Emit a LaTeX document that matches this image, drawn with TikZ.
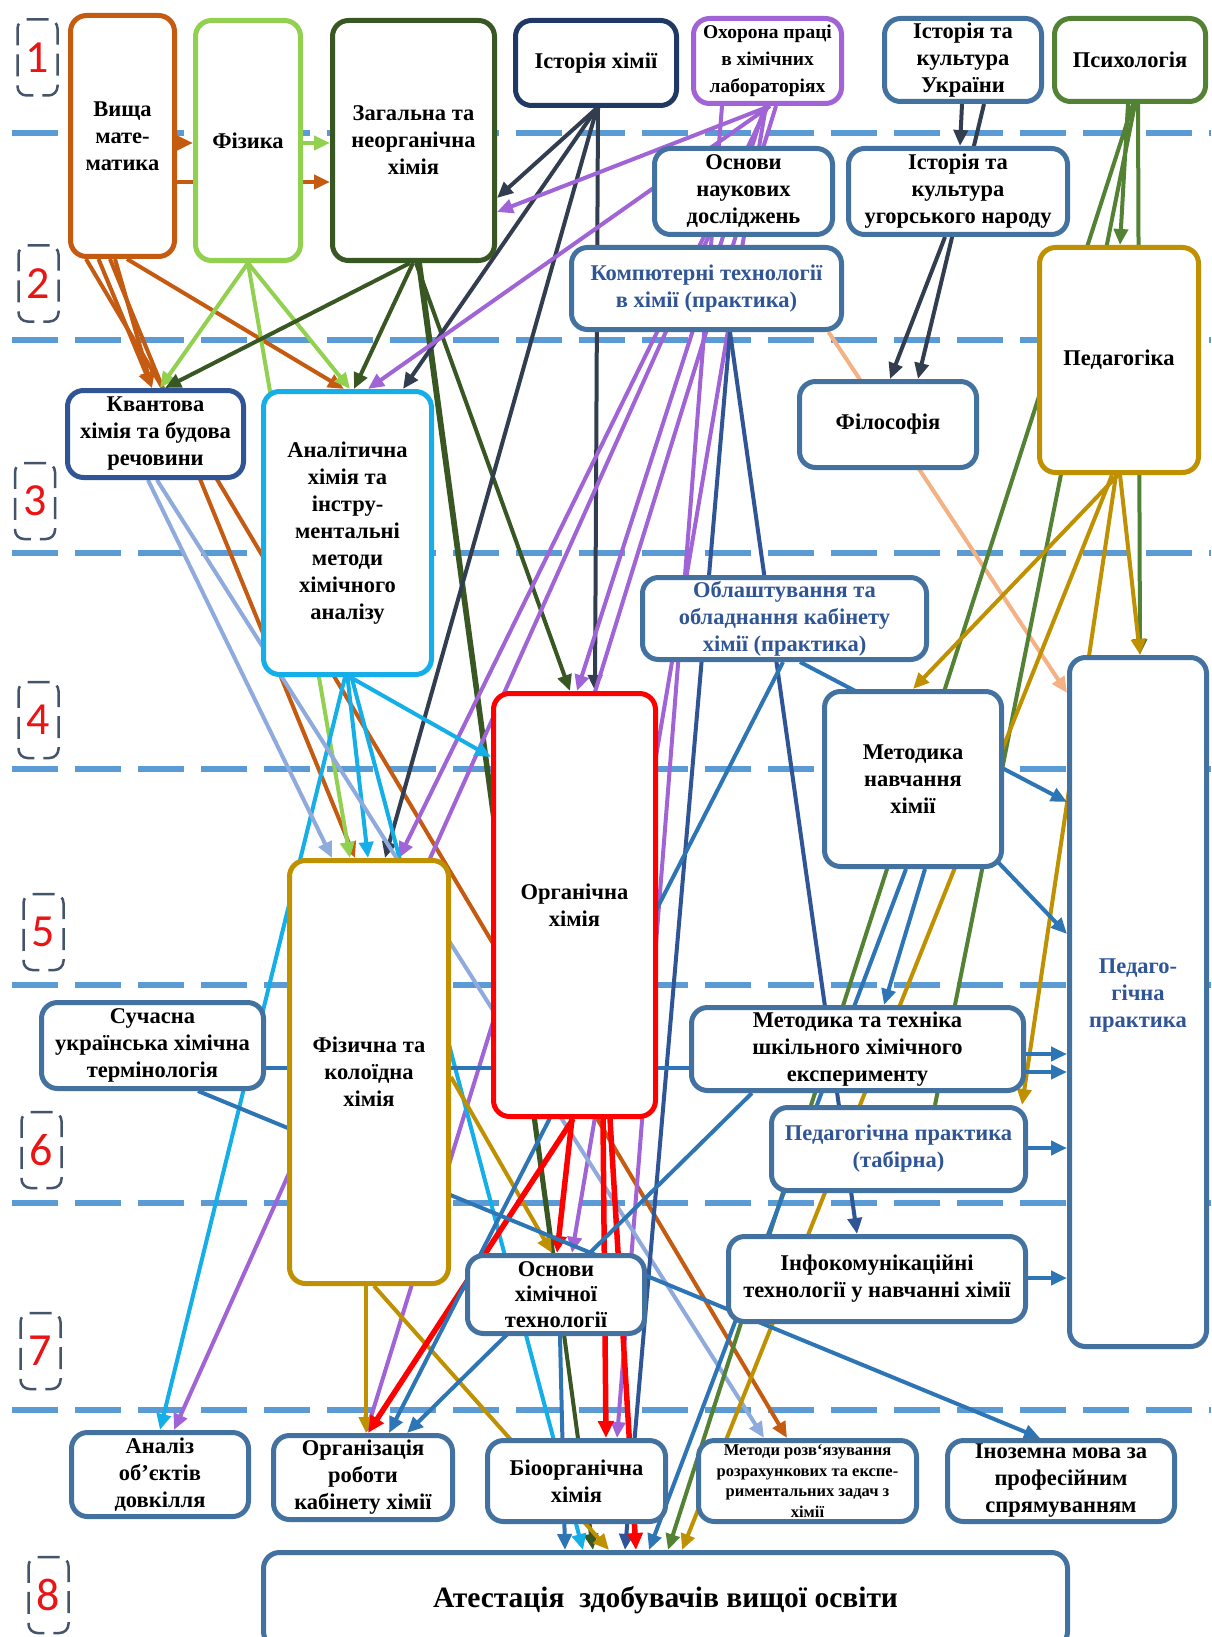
\documentclass[tikz,border=0pt]{standalone}
\usepackage{fontspec}
\setmainfont{Liberation Serif}
\newfontfamily\numfont{Carlito}
\usetikzlibrary{arrows.meta,backgrounds}
\definecolor{cOr}{RGB}{197,90,17}
\definecolor{cLg}{RGB}{146,208,80}
\definecolor{cDg}{RGB}{56,87,35}
\definecolor{cNvBox}{RGB}{32,56,100}
\definecolor{cNv}{RGB}{50,62,80}
\definecolor{cPu}{RGB}{160,100,215}
\definecolor{cBg}{RGB}{68,114,160}
\definecolor{cBt}{RGB}{47,85,151}
\definecolor{cKv}{RGB}{47,85,151}
\definecolor{cCy}{RGB}{20,174,232}
\definecolor{cGd}{RGB}{191,144,0}
\definecolor{cGr}{RGB}{84,130,53}
\definecolor{cRd}{RGB}{255,0,0}
\definecolor{cPe}{RGB}{244,177,131}
\definecolor{cLb}{RGB}{143,170,220}
\definecolor{cSb}{RGB}{46,117,182}
\definecolor{cDb}{RGB}{47,85,151}
\definecolor{cSep}{RGB}{91,155,213}
\definecolor{cLvl}{RGB}{68,84,106}
\definecolor{cNum}{RGB}{235,20,20}
\begin{document}
\begin{tikzpicture}[x=1pt,y=-1pt,
 bx/.style={draw=cBg, fill=white, rounded corners=16pt, line width=5pt, align=center, inner sep=1pt, font=\fontsize{22.5}{27}\selectfont\bfseries, text=black},
 ln/.style={line width=4pt},
 ar/.style={line width=4pt,-{Triangle[length=16pt,width=14pt]}},
 arr/.style={line width=5.5pt,-{Triangle[length=17pt,width=15pt]}},
 sepline/.style={line width=6.5pt,draw=cSep,dash pattern=on 46pt off 17pt},
 lvl/.style={draw=cLvl, line width=2.5pt, dash pattern=on 22pt off 9pt, rounded corners=9pt, minimum width=40pt, minimum height=76pt, inner sep=0pt, text=cNum, font=\numfont\fontsize{46}{46}\selectfont},
]
\useasboundingbox (0,0) rectangle (1211,1637);

% ---------- boxes ----------
\node[bx,draw=cOr,minimum width=104pt,minimum height=241pt] (vm) at (122.5,136) {Вища\\мате-\\матика};
\node[bx,draw=cLg,minimum width=105pt,minimum height=240pt] (fiz) at (248,140.5) {Фізика};
\node[bx,draw=cDg,minimum width=162pt,minimum height=240pt] (zag) at (413.5,140.5) {Загальна та\\неорганічна\\хімія};
\node[bx,draw=cNvBox,minimum width=161pt,minimum height=85pt] (ist) at (596,63) {Історія хімії};
\node[bx,draw=cPu,minimum width=148pt,minimum height=85pt,font=\fontsize{19.5}{27}\selectfont\bfseries] (okh) at (767.5,61) {Охорона праці\\в хімічних\\лабораторіях};
\node[bx,minimum width=157pt,minimum height=83pt] (iku) at (963,60) {Історія та\\культура\\України};
\node[bx,draw=cGr,minimum width=151pt,minimum height=83pt] (psy) at (1130,60) {Психологія};
\node[bx,minimum width=178pt,minimum height=86pt] (osn) at (743.5,191.5) {Основи\\наукових\\досліджень};
\node[bx,minimum width=219pt,minimum height=86pt] (ikug) at (958,191.5) {Історія та\\культура\\угорського народу};
\node[bx,text=cBt,minimum width=270pt,minimum height=82pt] (komp) at (706.5,288.5) {Компютерні технології\\в хімії (практика)};
\node[bx,draw=cGd,minimum width=159pt,minimum height=225pt] (ped) at (1119,360) {Педагогіка};
\node[bx,draw=cKv,minimum width=176pt,minimum height=87pt] (kv) at (155.5,434) {Квантова\\хімія та будова\\речовини};
\node[bx,draw=cCy,minimum width=168pt,minimum height=283pt] (an) at (347.5,533) {Аналітична\\хімія та\\інстру-\\ментальні\\методи\\хімічного\\аналізу};
\node[bx,minimum width=177pt,minimum height=86pt] (fil) at (888,424.5) {Філософія};
\node[bx,text=cBt,minimum width=284pt,minimum height=82pt] (obl) at (784.5,618.5) {Облаштування та\\обладнання кабінету\\хімії (практика)};
\node[bx,draw=cRd,minimum width=162pt,minimum height=423pt] (org) at (574.5,905) {Органічна\\хімія};
\node[bx,minimum width=177pt,minimum height=175pt] (mnh) at (913,779) {Методика\\навчання\\хімії};
\node[bx,text=cBt,minimum width=137pt,minimum height=689pt] (pp) at (1138,1002) {Педаго-\\гічна\\практика\\[-9pt]};
\node[bx,draw=cGd,minimum width=159pt,minimum height=423pt] (fk) at (369,1072) {Фізична та\\колоїдна\\хімія};
\node[bx,minimum width=222pt,minimum height=86pt] (sut) at (152.5,1045.5) {Сучасна\\українська хімічна\\термінологія};
\node[bx,minimum width=332pt,minimum height=83pt] (mte) at (857.5,1049) {Методика та техніка\\шкільного хімічного\\експерименту};
\node[bx,text=cBt,minimum width=254pt,minimum height=83pt] (ppt) at (898.5,1149) {Педагогічна практика\\(табірна)};
\node[bx,minimum width=177pt,minimum height=78pt,font=\fontsize{22.5}{25.5}\selectfont\bfseries] (oht) at (556,1294.5) {Основи\\хімічної\\технології};
\node[bx,minimum width=297pt,minimum height=85pt] (ikt) at (877,1279) {Інфокомунікаційні\\технології у навчанні хімії};
\node[bx,minimum width=177pt,minimum height=84pt] (aod) at (160,1474.5) {Аналіз\\об’єктів\\довкілля};
\node[bx,minimum width=179pt,minimum height=84pt] (ork) at (363,1477.5) {Організація\\роботи\\кабінету хімії};
\node[bx,minimum width=178pt,minimum height=81pt] (bio) at (576.5,1481) {Біоорганічна\\хімія};
\node[bx,minimum width=218pt,minimum height=81pt,font=\fontsize{16.5}{20.5}\selectfont\bfseries] (mrz) at (807.5,1481) {Методи розв`язування\\розрахункових та експе-\\риментальних задач з\\хімії};
\node[bx,minimum width=227pt,minimum height=81pt] (inm) at (1061,1481) {Іноземна мова за\\професійним\\спрямуванням};
\node[bx,minimum width=804pt,minimum height=95pt,font=\fontsize{29.5}{34}\selectfont\bfseries] (att) at (665.5,1600) {Атестація~ здобувачів вищої освіти};

% ---------- level labels ----------
\node[lvl] (l1) at (37.5,57.5) {1};
\node[lvl] (l2) at (38.5,283.5) {2};
\node[lvl] (l3) at (35,501) {3};
\node[lvl] (l4) at (38.5,720) {4};
\node[lvl] (l5) at (43.5,932) {5};
\node[lvl] (l6) at (41.5,1150) {6};
\node[lvl] (l7) at (40.5,1351) {7};
\node[lvl] (l8) at (48.5,1595) {8};

\begin{pgfonlayer}{background}
\fill[white] (0,0) rectangle (1211,1637);
\foreach \yy in {133,340,553,769,985,1203,1410} \draw[sepline] (12,\yy) -- (1211,\yy);

% orange: Вища математика
\draw[ar,cOr] ([yshift=-7pt]vm.east) -- ([yshift=-2.5pt]fiz.west);
\draw[ar,cOr] ([yshift=-46pt]vm.east) -- ([yshift=-41.5pt]zag.west);
\draw[ar,cOr] ([xshift=-7.5pt]vm.south) -- ([xshift=-3.5pt]kv.north);
\draw[ar,cOr] ([xshift=-24pt]vm.south) -- ([xshift=-3.5pt]kv.north);
\draw[ar,cOr] ([xshift=4.5pt]vm.south) -- ([xshift=-3.5pt]an.north);
\draw[ar,cOr] ([xshift=-12.5pt]vm.south) -- ([xshift=-14pt]fk.north);
\draw[ar,cOr] ([xshift=-36.5pt]vm.south) -- ([xshift=-20.5pt]mrz.north);

% light green: Фізика
\draw[ar,cLg] ([yshift=-2.5pt]fiz.east) -- ([yshift=-2.5pt]zag.west);
\draw[ar,cLg] (fiz.south) -- ([xshift=4.5pt]kv.north);
\draw[ar,cLg] (fiz.south) -- ([xshift=2.5pt]an.north);
\draw[ar,cLg] (fiz.south) -- ([xshift=-19pt]fk.north);

% dark green: Загальна
\draw[ar,cDg] ([xshift=-3.5pt]zag.south) -- ([xshift=9.5pt]kv.north);
\draw[ar,cDg] ([xshift=-0.5pt]zag.south) -- ([xshift=6.5pt]an.north);
\draw[ar,cDg] ([xshift=2.5pt]zag.south) -- ([xshift=-4.5pt]org.north);
\draw[ar,cDg] ([xshift=4.5pt]zag.south) -- ([xshift=-4pt]oht.north);
\draw[ar,cDg] ([xshift=6.5pt]zag.south) -- ([xshift=-72.5pt]att.north);

% navy: Історія хімії
\draw[ar,cNv] ([xshift=1pt]ist.south) -- ([yshift=-57.5pt]zag.east);
\draw[ar,cNv] ([xshift=1pt]ist.south) -- ([xshift=55.5pt]an.north);
\draw[ar,cNv] ([xshift=1pt]ist.south) -- ([xshift=16pt]fk.north);
\draw[ar,cNv] ([xshift=2pt]ist.south) -- ([xshift=20.5pt]org.north);

% purple: Охорона праці
\draw[ar,cPu] ([xshift=2.5pt]okh.south) -- ([yshift=-71.5pt]zag.east);
\draw[ar,cPu] ([xshift=2.5pt]okh.south) -- ([xshift=20.5pt]an.north);
\draw[ar,cPu] ([xshift=0.5pt]okh.south) -- ([xshift=30pt]fk.north);
\draw[ar,cPu] ([xshift=-2.5pt]okh.south) -- ([xshift=2.5pt]org.north);
\draw[ar,cPu] ([xshift=-1.5pt]okh.south) -- ([xshift=16pt]oht.north);
\draw[ar,cPu] ([xshift=-45.5pt]okh.south) -- ([xshift=40.5pt]bio.north);
\draw[ar,cPu] ([xshift=8.5pt]okh.south) -- ([xshift=3pt]ork.north);
\draw[ar,cPu] ([xshift=-0.5pt]okh.south) -- ([xshift=14pt]aod.north);

% cyan: Аналітична
\draw[ar,cCy] ([xshift=2.5pt]an.south) -- ([yshift=148pt]org.west);
\draw[ar,cCy] (an.south) -- ([xshift=-1pt]fk.north);
\draw[ar,cCy] ([xshift=-2.5pt]an.south) -- (aod.north);
\draw[ar,cCy] ([xshift=4pt]an.south) -- ([xshift=-82.5pt]att.north);

% light blue: Квантова
\draw[ar,cLb] ([xshift=-7.5pt]kv.south) -- ([xshift=-37pt]fk.north);
\draw[ar,cLb] ([xshift=1.5pt]kv.south) -- ([xshift=-43.5pt]mrz.north);

% peach & dark blue: Компютерні технології
\draw[ar,cPe] ([xshift=122pt]komp.south) -- ([yshift=309pt]pp.west);
\draw[ar,cDb] ([xshift=23.5pt]komp.south) -- ([xshift=-20pt]ikt.north);
\draw[ar,cDb] ([xshift=23.5pt]komp.south) -- ([xshift=-40.5pt]att.north);

% navy: Історія та культура України
\draw[ar,cNv] ([xshift=-1pt]iku.south) -- ([xshift=2pt]ikug.north);
\draw[ar,cNv] ([xshift=21pt]iku.south) -- ([xshift=30pt]fil.north);
\draw[ar,cNv] ([xshift=-13pt]ikug.south) -- ([xshift=2pt]fil.north);

% green: Психологія
\draw[ar,cGr] ([xshift=3pt]psy.south) -- ([xshift=2.5pt]att.north);
\draw[ln,cGr] ([xshift=5pt]psy.south) -- ([xshift=36.5pt]ppt.north);
\draw[ar,cGr] ([xshift=8pt]psy.south) -- ([xshift=2pt]pp.north);
\draw[ar,cGr] ([xshift=-2pt]psy.south) -- ([xshift=1pt]ped.north);

% gold: Педагогіка, Фізична та колоїдна
\draw[ar,cGd] ([xshift=-1pt]ped.south) -- (mnh.north);
\draw[ar,cGd] ([xshift=1pt]ped.south) -- ([xshift=2pt]pp.north);
\draw[ar,cGd] ([xshift=-3pt]ped.south) -- ([xshift=-6pt]ppt.north east);
\draw[ar,cGd] ([xshift=-7pt]ped.south) -- ([xshift=16.5pt]att.north);
\draw[ar,cGd] ([xshift=-3pt]fk.south) -- ([xshift=3pt]ork.north);
\draw[ar,cGd] ([yshift=-5pt]fk.east) -- ([xshift=-4pt]oht.north);
\draw[ar,cGd] ([xshift=5pt]fk.south) -- ([xshift=-56.5pt]att.north);

% red: Органічна
\draw[arr,cRd] ([xshift=-1.5pt]org.south) -- ([xshift=5pt]ork.north);
\draw[arr,cRd] ([xshift=-2.5pt]org.south) -- ([xshift=1pt]oht.north);
\draw[arr,cRd] ([xshift=28.5pt]org.south) -- ([xshift=29.5pt]bio.north);
\draw[arr,cRd] ([xshift=35.5pt]org.south) -- ([xshift=-29.5pt]att.north);

% steel blue
\draw[ar,cSb] ([xshift=-1.5pt]obl.south) -- ([xshift=26pt]ork.north);
\draw[ar,cSb] ([xshift=15.5pt]obl.south) -- ([yshift=200pt]pp.west);
\draw[ar,cSb] ([xshift=-7pt,yshift=8pt]mnh.south east) -- ([yshift=68pt]pp.west);
\draw[ar,cSb] ([xshift=12pt]mnh.south) -- ([xshift=26.5pt]mte.north);
\draw[ar,cSb] ([xshift=-7pt]mnh.south) -- ([xshift=-16.5pt]att.north);
\draw[ar,cSb] ([yshift=-5pt]mte.east) -- ([yshift=-52pt]pp.west);
\draw[ar,cSb] ([yshift=-23pt]mte.east) -- ([yshift=-70pt]pp.west);
\draw[ar,cSb] ([yshift=1pt]ppt.east) -- ([yshift=-146pt]pp.west);
\draw[ar,cSb] ([yshift=1pt]ikt.east) -- ([yshift=-276pt]pp.west);
\draw[ar,cSb] ([xshift=-105.5pt]mte.south) -- ([xshift=44pt]ork.north);
\draw[ln,cSb] ([yshift=-22.5pt]sut.east) -- ([yshift=-19pt]mte.west);
\draw[ar,cSb] ([xshift=45.5pt]sut.south) -- ([xshift=-21pt]inm.north);
\draw[ar,cSb] ([xshift=4pt]oht.south) -- ([xshift=-100.5pt]att.north);
\end{pgfonlayer}
\end{tikzpicture}
\end{document}
